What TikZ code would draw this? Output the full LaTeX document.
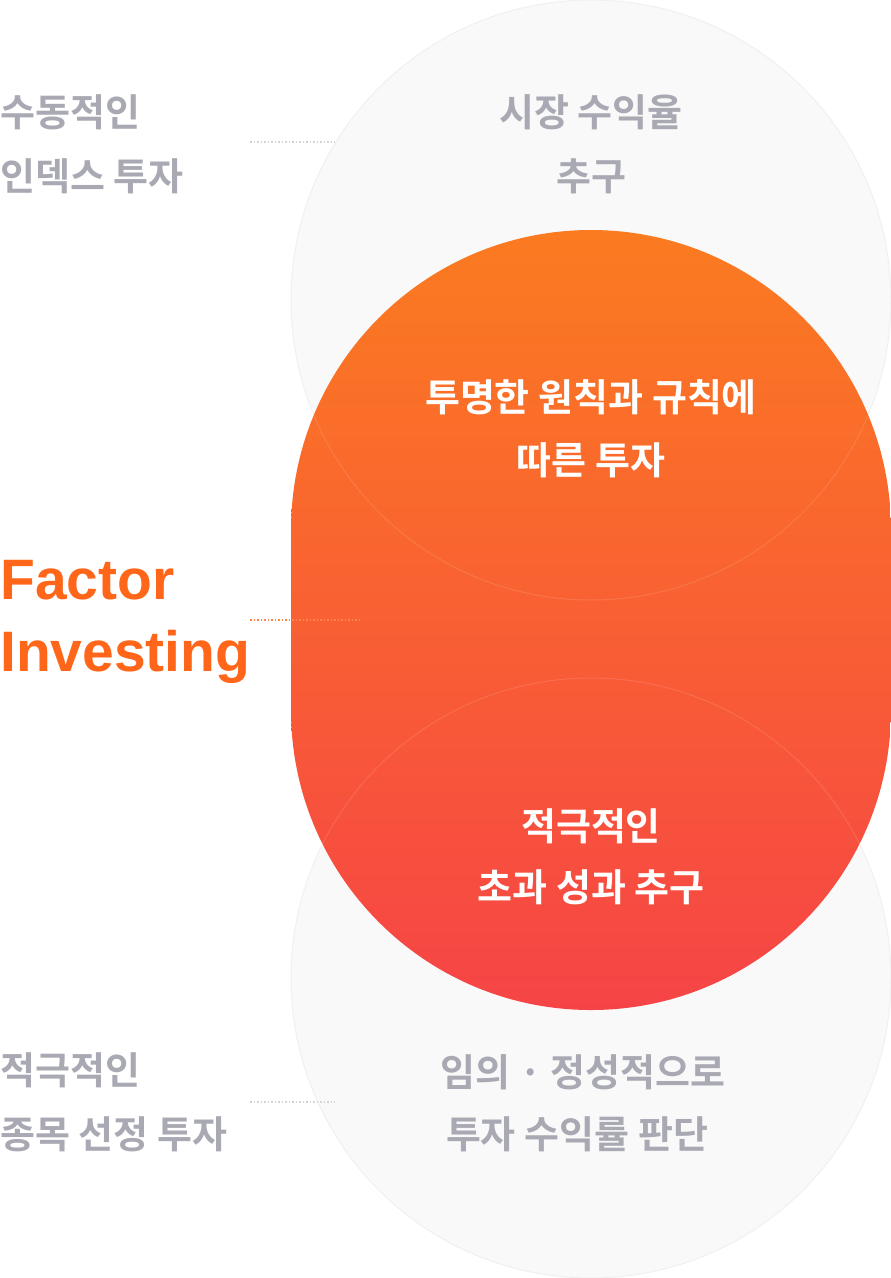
\documentclass[tikz,border=0pt]{standalone}
\usepackage{fontspec}
\setmainfont{Noto Sans CJK KR}
\newfontfamily\kb{Noto Sans CJK KR Bold}
\newfontfamily\lb{Liberation Sans}[BoldFont={* Bold}]
\definecolor{gtext}{HTML}{A8A9B2}
\definecolor{cfill}{HTML}{F9F9F9}
\definecolor{cline}{HTML}{F0F0F0}
\definecolor{otop}{HTML}{FB7B20}
\definecolor{obot}{HTML}{F64446}
\definecolor{ftxt}{HTML}{FF6619}
\begin{document}
\begin{tikzpicture}[x=1pt,y=-1pt,
  gl/.style={font=\kb\fontsize{38}{44}\selectfont, text=gtext, align=left, anchor=west, inner sep=0pt},
  gc/.style={font=\kb\fontsize{38}{44}\selectfont, text=gtext, align=center, inner sep=0pt},
  wc/.style={font=\kb\fontsize{38}{44}\selectfont, text=white, align=center, inner sep=0pt},
  dl/.style={dotted, line width=1.5pt, gtext!50}]
\useasboundingbox (0,0) rectangle (891,1278);
\fill[cfill] (591,300) circle (300);
\fill[cfill] (591,978) circle (300);
\draw[cline, line width=1pt] (591,300) circle (300);
\draw[cline, line width=1pt] (591,978) circle (300);
\shade[top color=otop, bottom color=obot]
  (291,530) arc[start angle=180, end angle=360, radius=300] -- (891,710)
  arc[start angle=0, end angle=180, radius=300] -- cycle;
\begin{scope}
\clip (291,230) rectangle (891,1010);
\draw[white, opacity=0.12, line width=1pt] (591,300) circle (300);
\draw[white, opacity=0.12, line width=1pt] (591,978) circle (300);
\end{scope}
\node[gl] (l1) at (0,112) {수동적인};
\node[gl] (l2) at (0,176) {인덱스 투자};
\node[gc] (r1) at (591,112) {시장 수익율};
\node[gc] (r2) at (591,176) {추구};
\node[wc] (c1) at (591,397) {투명한 원칙과 규칙에};
\node[wc] (c2) at (591,460) {따른 투자};
\node[wc] (c3) at (591,826) {적극적인};
\node[wc] (c4) at (591,887) {초과 성과 추구};
\node[gl] (l3) at (0,1070) {적극적인};
\node[gl] (l4) at (0,1134) {종목 선정 투자};
\node[gc] (r3) at (583,1072) {임의 · 정성적으로};
\node[gc] (r4) at (577,1134) {투자 수익률 판단};
\node[font=\lb\bfseries\fontsize{57}{72}\selectfont, text=ftxt, align=left, anchor=west, inner sep=0pt] (fi) at (0,622) {Factor\\Investing};
\coordinate (a1) at (250,142); \coordinate (a2) at (335,142);
\coordinate (b1) at (250,620); \coordinate (b2) at (360,620);
\coordinate (d1) at (250,1102); \coordinate (d2) at (335,1102);
\draw[dl] (a1) -- (a2);
\draw[dl] (d1) -- (d2);
\draw[dotted, line width=1.5pt, ftxt!80] (b1) -- (b2);
\end{tikzpicture}
\end{document}
